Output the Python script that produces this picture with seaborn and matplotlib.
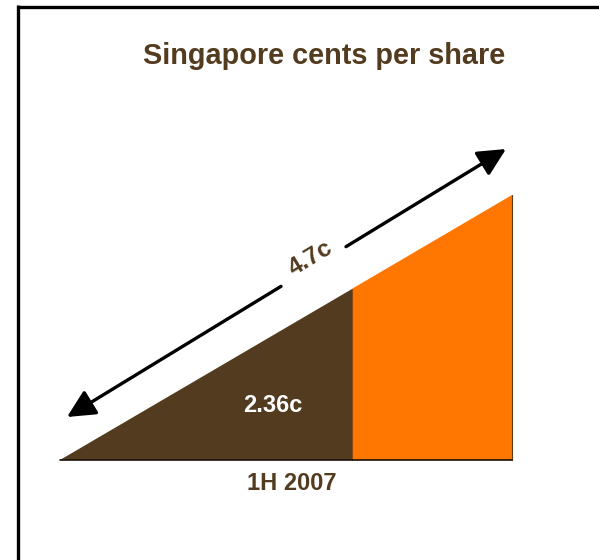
import matplotlib
matplotlib.use("Agg")
import matplotlib.pyplot as plt
import seaborn as sns
import pandas as pd
from matplotlib.patches import FancyArrowPatch

# ---- data ----
title = "Singapore cents per share"
periods = ["1H 2007"]
interim_values = [2.36]
full_year_total = [4.7]
value_labels = ["2.36c"]
total_labels = ["4.7c"]

# ---- style ----
sns.set_theme(style="white")
plt.rcParams["font.family"] = ["Liberation Sans", "DejaVu Sans"]
BROWN = "#533B1F"
ORANGE = "#FF7600"

W, H = 599, 560
fig = plt.figure(figsize=(W / 100, H / 100), dpi=100)
ax = fig.add_axes([0, 0, 1, 1])
ax.set_xlim(0, W)
ax.set_ylim(H, 0)
ax.axis("off")

# frame (top + left)
ax.plot([17.5, W], [6.5, 6.5], color="black", lw=2.4, solid_capstyle="butt")
ax.plot([17.5, 17.5], [5.3, H], color="black", lw=2.4, solid_capstyle="butt")

# wedge layout (pixel geometry)
x0, xs, x1 = 60, 352, 512
base = 460
ytop_end = 195
slope = (base - ytop_end) / (x1 - x0)
ys = base - slope * (xs - x0)

ax.fill([x0, xs, xs], [base, base, ys], color=BROWN, lw=0)
ax.fill([xs, x1, x1, xs], [base, base, ytop_end, ys], color=ORANGE, lw=0)
ax.plot([xs, xs], [base, ys], color="#8a4a10", lw=0.8)
ax.plot([x1, x1], [base, ytop_end], color="#5a3a1a", lw=0.8)
base_df = pd.DataFrame({"x": [x0, x1], "y": [base, base]})
sns.lineplot(data=base_df, x="x", y="y", ax=ax, color="#1a1008", lw=1.2)

# arrow
tipL = (67, 417)
tipR = (506, 149)
def on_line(x):
    t = (x - tipL[0]) / (tipR[0] - tipL[0])
    return (x, tipL[1] + t * (tipR[1] - tipL[1]))
gL = on_line(281)
gR = on_line(346)
for a, b in [(gL, tipL), (gR, tipR)]:
    ax.add_patch(FancyArrowPatch(a, b, arrowstyle="-|>,head_length=0.85,head_width=0.42",
                                 mutation_scale=20, color="black", lw=2.4,
                                 shrinkA=0, shrinkB=0))

ax.text(311, 258, total_labels[0], rotation=31, ha="center", va="center",
        fontsize=17.5, fontweight="bold", color=BROWN, rotation_mode="anchor")

ax.text(273, 405, value_labels[0], ha="center", va="center",
        fontsize=17, fontweight="bold", color="white")
ax.text(292, 484, periods[0], ha="center", va="center",
        fontsize=17, fontweight="bold", color=BROWN)
ax.text(324, 56, title, ha="center", va="center",
        fontsize=20.8, fontweight="bold", color=BROWN)

fig.savefig("out.png", dpi=100)
